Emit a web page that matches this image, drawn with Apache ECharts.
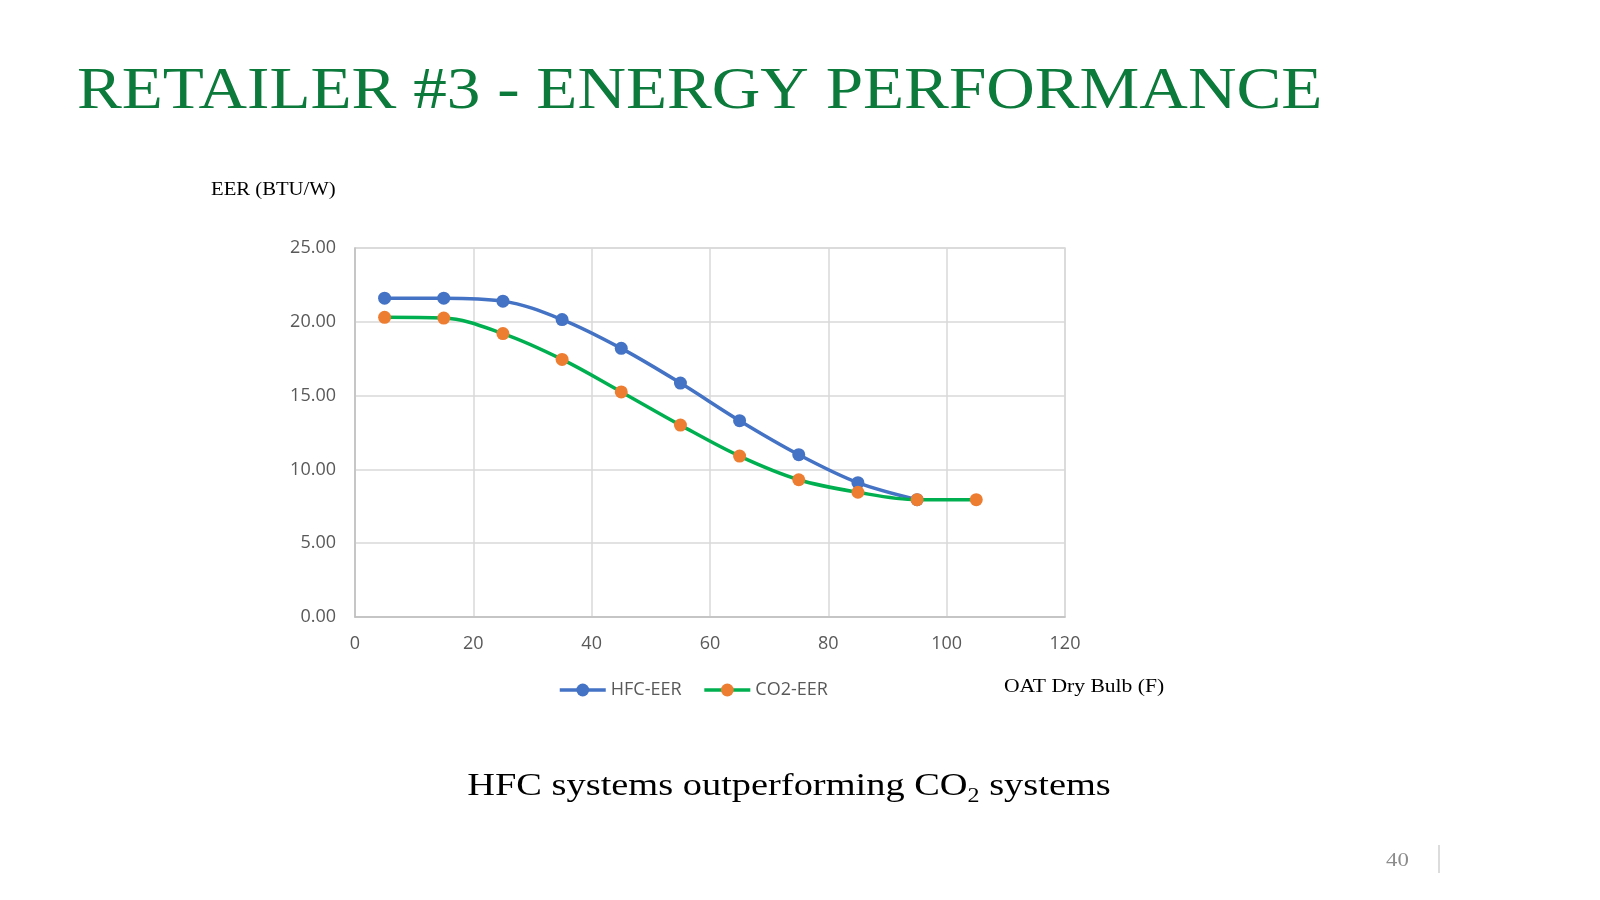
<!DOCTYPE html>
<html>
<head>
<meta charset="utf-8">
<script src="https://cdn.jsdelivr.net/npm/echarts@6/dist/echarts.min.js"></script>
<style>
html,body{margin:0;padding:0;background:#fff;}
#c{width:1600px;height:900px;}
</style>
</head>
<body>
<div id="c"></div>
<script>
var hfcX = [5, 15, 25, 35, 45, 55, 65, 75, 85, 95];
var hfcY = [21.6, 21.6, 21.4, 20.15, 18.2, 15.85, 13.3, 11.0, 9.1, 7.95];
var co2X = [5, 15, 25, 35, 45, 55, 65, 75, 85, 95, 105];
var co2Y = [20.3, 20.25, 19.2, 17.45, 15.25, 13.0, 10.9, 9.3, 8.45, 7.95, 7.95];
var seriesNames = ['HFC-EER', 'CO2-EER'];

function pairs(xs, ys) { return xs.map(function (x, i) { return [x, ys[i]]; }); }

var chart = echarts.init(document.getElementById('c'));
chart.setOption({
  backgroundColor: '#fff',
  animation: false,
  grid: { left: 355, right: 535, top: 248, bottom: 283, show: true, borderColor: '#d9d9d9', borderWidth: 1.5 },
  xAxis: {
    type: 'value', min: 0, max: 120, interval: 20,
    axisLine: { show: true, lineStyle: { color: '#bfbfbf', width: 1.5 } },
    axisTick: { show: false },
    splitLine: { show: true, lineStyle: { color: '#d9d9d9', width: 1.5 } },
    axisLabel: { color: '#595959', fontSize: 18, fontFamily: 'Open Sans', margin: 18 }
  },
  yAxis: {
    type: 'value', min: 0, max: 25, interval: 5,
    axisLine: { show: true, lineStyle: { color: '#bfbfbf', width: 1.5 } },
    axisTick: { show: false },
    splitLine: { show: true, lineStyle: { color: '#d9d9d9', width: 1.5 } },
    axisLabel: { color: '#595959', fontSize: 18, fontFamily: 'Open Sans', margin: 19,
      formatter: function (v) { return v.toFixed(2); } }
  },
  legend: {
    left: 553, top: 676, itemGap: 21, itemWidth: 46, itemHeight: 16,
    lineStyle: { width: 3.5 },
    textStyle: { color: '#595959', fontSize: 18, fontFamily: 'Open Sans' },
    data: seriesNames
  },
  series: [
    { name: seriesNames[0], type: 'line', data: pairs(hfcX, hfcY), smooth: 0.35,
      symbol: 'circle', symbolSize: 13,
      lineStyle: { color: '#4472C4', width: 3.5 },
      itemStyle: { color: '#4472C4' }, z: 2 },
    { name: seriesNames[1], type: 'line', data: pairs(co2X, co2Y), smooth: 0.35,
      symbol: 'circle', symbolSize: 13,
      lineStyle: { color: '#00B050', width: 3.5 },
      itemStyle: { color: '#ED7D31' }, z: 3 }
  ],
  graphic: [
    { type: 'text', x: 77, y: 62, scaleX: 1.12, style: { text: 'RETAILER #3 - ENERGY PERFORMANCE', fill: '#0B7A3B', font: '60px "Liberation Serif"', verticalAlign: 'top' } },
    { type: 'text', x: 211, y: 181, scaleX: 1.15, style: { text: 'EER (BTU/W)', fill: '#000', font: '18px "Liberation Serif"', verticalAlign: 'top' } },
    { type: 'text', x: 1004, y: 678, scaleX: 1.2, style: { text: 'OAT Dry Bulb (F)', fill: '#000', font: '18px "Liberation Serif"', verticalAlign: 'top' } },
    { type: 'text', x: 789, y: 767, scaleX: 1.2, style: {
      text: 'HFC systems outperforming CO{s|2} systems',
      fill: '#000', font: '32px "Liberation Serif"', align: 'center', verticalAlign: 'top',
      rich: { s: { fontSize: 20, fontFamily: 'Liberation Serif', fill: '#000', padding: [20, 0, 0, 0] } }
    } },
    { type: 'text', x: 1386, y: 852, scaleX: 1.2, style: { text: '40', fill: '#8c8c8c', font: '19px "Liberation Serif"', verticalAlign: 'top' } },
    { type: 'line', shape: { x1: 1439, y1: 845, x2: 1439, y2: 873 }, style: { stroke: '#d0d0d0', lineWidth: 1.5 } }
  ]
});
</script>
</body>
</html>
